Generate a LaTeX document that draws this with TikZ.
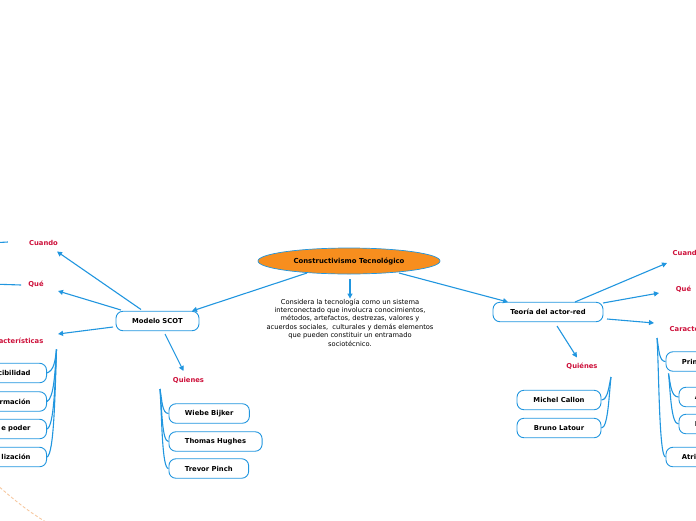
\documentclass[tikz,border=0pt]{standalone}
\usepackage{fontspec}
\setmainfont{DejaVu Sans}
\usetikzlibrary{arrows.meta,shapes.geometric}
\definecolor{lineblue}{RGB}{33,150,223}
\definecolor{labelred}{RGB}{205,16,58}
\definecolor{toporange}{RGB}{247,142,30}
\definecolor{arcpeach}{RGB}{246,200,160}
\tikzset{
  conn/.style={draw=lineblue, line width=1.1pt, -{Triangle[length=5pt,width=5pt]}},
  brk/.style={draw=lineblue, line width=1.1pt},
  boxnode/.style={draw=lineblue, line width=0.9pt, fill=white, rounded corners=7pt,
    minimum height=19.5pt, inner xsep=16pt, inner ysep=0pt, font=\fontsize{6.8}{8}\selectfont\bfseries},
  lbl/.style={text=labelred, inner sep=0pt, font=\fontsize{6.8}{8}\selectfont\bfseries},
}
\begin{document}
\begin{tikzpicture}[x=1pt,y=-1pt]
\useasboundingbox (0,0) rectangle (696,520);
\clip (0,0) rectangle (696,520);
% central
\node[ellipse, draw=lineblue, line width=0.7pt, fill=toporange, minimum width=182pt, minimum height=26pt, inner sep=0pt,
  font=\fontsize{6.9}{8}\selectfont\bfseries] (top) at (349,261) {Constructivismo Tecnológico};
\node[align=center, inner sep=0pt, font=\fontsize{6.7}{8.4}\selectfont] (desc) at (350,322.5)
  {Considera la tecnología como un sistema\\interconectado que involucra conocimientos,\\métodos, artefactos, destrezas, valores y\\acuerdos sociales,\ \ culturales y demás elementos\\que pueden constituir un entramado\\sociotécnico.};
\coordinate (dtop) at (350,279);
\draw[conn] (dtop) -- (desc.north);

% main branches
\node[boxnode, minimum width=83pt, inner xsep=0pt] (scot) at (157.5,321) {Modelo SCOT};
\node[boxnode, minimum width=110pt, inner xsep=0pt] (ant) at (548,312) {Teoría del actor-red};
\coordinate (t1) at (307,273);
\coordinate (t2) at (399,273);
\coordinate (s1) at (192,311);
\coordinate (a1) at (508,302);
\draw[conn] (t1) -- (s1);
\draw[conn] (t2) -- (a1);

% SCOT labels
\node[lbl] (cuandoL) at (43.5,242.5) {Cuando};
\node[lbl] (queL) at (36,284.5) {Qué};
\node[lbl, anchor=east] (carL) at (43.5,340.5) {Características};
\node[lbl] (quienL) at (188.5,380.5) {Quienes};
\coordinate (scA) at (141,309.5);
\coordinate (scB) at (121,310);
\coordinate (scC) at (113,327);
\coordinate (scD) at (165,334);
\coordinate (eA) at (57,251.5);
\coordinate (eB) at (58,291);
\coordinate (eC) at (58,334);
\coordinate (eD) at (183.5,371);
\draw[conn] (scA) -- (eA);
\draw[conn] (scB) -- (eB);
\draw[conn] (scC) -- (eC);
\draw[conn] (scD) -- (eD);
\coordinate (offA) at (-10,243);
\coordinate (offB) at (-10,284);
\draw[brk] ([xshift=-21pt,yshift=0.5pt]cuandoL.west) -- (offA);
\draw[brk] ([xshift=-7pt,yshift=-0.5pt]queL.west) -- (offB);

% SCOT characteristics boxes (clipped on the left)
\node[boxnode, anchor=east, text width=70pt, align=right] (l1) at (47,373) {cibilidad};
\node[boxnode, anchor=east, text width=70pt, align=right] (l2) at (47,401.5) {rmación};
\node[boxnode, anchor=east, text width=70pt, align=right] (l3) at (47,429) {e poder};
\node[boxnode, anchor=east, text width=70pt, align=right] (l4) at (47,457) {lización};
\coordinate (lb) at (56.5,349.5);

% Quienes boxes
\node[boxnode, anchor=west] (q1) at (168.5,413.5) {Wiebe Bijker};
\node[boxnode, anchor=west] (q2) at (168.5,441.5) {Thomas Hughes};
\node[boxnode, anchor=west] (q3) at (168.5,468.5) {Trevor Pinch};
\coordinate (qb) at (160,389);

% ANT labels
\node[lbl, anchor=west] (cuandoR) at (672.5,252.5) {Cuando};
\node[lbl] (queR) at (683.5,289) {Qué};
\node[lbl, anchor=west] (carR) at (669.5,328.5) {Características};
\node[lbl] (quienR) at (582,366.5) {Quiénes};
\coordinate (anA) at (575,302);
\coordinate (anB) at (603,303);
\coordinate (anC) at (607,319);
\coordinate (anD) at (557,326);
\coordinate (fA) at (667,263);
\coordinate (fB) at (659,293);
\coordinate (fC) at (654,323);
\coordinate (fD) at (577,357.5);
\draw[conn] (anA) -- (fA);
\draw[conn] (anB) -- (fB);
\draw[conn] (anC) -- (fC);
\draw[conn] (anD) -- (fD);

% ANT Quiénes boxes
\node[boxnode, minimum width=84pt, inner xsep=0pt] (r1) at (559,400) {Michel Callon};
\node[boxnode, minimum width=84pt, inner xsep=0pt] (r2) at (559,428) {Bruno Latour};
\coordinate (rb) at (611,377);

% ANT characteristics boxes (clipped on the right)
\node[boxnode, anchor=west, text width=70pt, align=left] (p1) at (665.5,361.5) {Prin};
\node[boxnode, anchor=west, text width=70pt, align=left] (p2) at (678.5,397) {A};
\node[boxnode, anchor=west, text width=70pt, align=left] (p3) at (678.5,424) {I};
\node[boxnode, anchor=west, text width=70pt, align=left] (p4) at (665.5,457) {Atri};
\coordinate (pb) at (657,338);
\coordinate (psb) at (668.5,373.5);

% brackets
\draw[brk] (lb) .. controls (55,362) and (54,370) .. (l1.east);
\draw[brk] (lb) .. controls (55,372) and (54,398) .. (l2.east);
\draw[brk] (lb) .. controls (55,385) and (54,426) .. (l3.east);
\draw[brk] (lb) .. controls (55,395) and (54,454) .. (l4.east);

\draw[brk] (qb) .. controls (162,400) and (162,413.5) .. (q1.west);
\draw[brk] (qb) .. controls (162,410) and (162,441.5) .. (q2.west);
\draw[brk] (qb) .. controls (162,420) and (162,468.5) .. (q3.west);

\draw[brk] (rb) .. controls (609,385) and (608,400) .. (r1.east);
\draw[brk] (rb) .. controls (609,395) and (608,428) .. (r2.east);

\draw[brk] (pb) .. controls (659,350) and (659,361.5) .. (p1.west);
\draw[brk] (pb) .. controls (659,370) and (659,457) .. (p4.west);
\draw[brk] (psb) .. controls (670.5,384) and (671,397) .. (p2.west);
\draw[brk] (psb) .. controls (670.5,392) and (671,424) .. (p3.west);

% decorative dashed arc
\draw[arcpeach, line width=0.9pt, dash pattern=on 3pt off 2pt] (-4,484) .. controls (12,498) and (26,510) .. (46,522);
\end{tikzpicture}
\end{document}
